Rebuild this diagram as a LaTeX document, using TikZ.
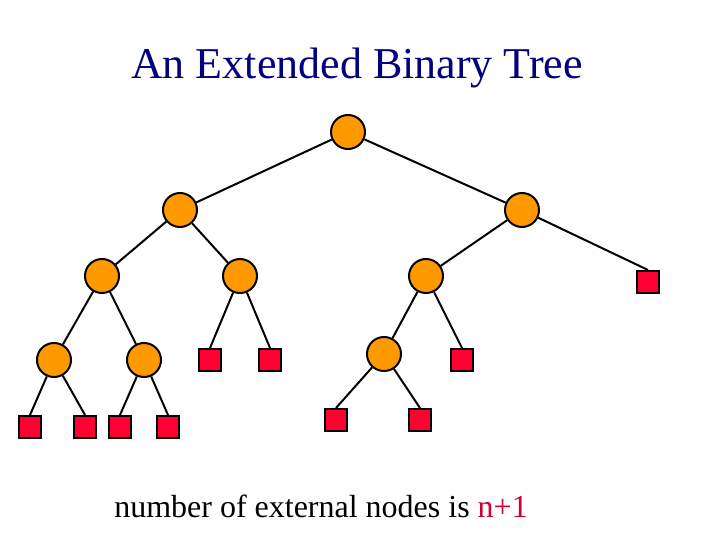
\documentclass[tikz,border=0pt]{standalone}
\usepackage{fontspec}
\setmainfont{Liberation Serif}
\definecolor{titleblue}{RGB}{0,0,128}
\definecolor{nodeorange}{RGB}{255,153,0}
\definecolor{extred}{RGB}{255,0,51}
\definecolor{nred}{RGB}{204,0,51}
\tikzset{
  inner/.style={circle, draw=black, line width=2pt, fill=nodeorange, minimum size=34pt, inner sep=0pt},
  ext/.style={rectangle, draw=black, line width=2pt, fill=extred, minimum size=22pt, inner sep=0pt},
  edge/.style={draw=black, line width=2pt}
}
\begin{document}
\begin{tikzpicture}[x=1pt,y=-1pt]
\useasboundingbox (0,0) rectangle (720,540);
\node[text=titleblue, font=\fontsize{44}{48}\selectfont, anchor=base] (title) at (357,79) {An Extended Binary Tree};
% internal nodes
\node[inner] (r) at (348,132) {};
\node[inner] (a) at (180,210) {};
\node[inner] (b) at (522,210) {};
\node[inner] (c) at (102,276) {};
\node[inner] (d) at (240,276) {};
\node[inner] (e) at (426,276) {};
\node[inner] (f) at (54,360) {};
\node[inner] (g) at (144,360) {};
\node[inner] (h) at (384,354) {};
% external nodes
\node[ext] (s1) at (648,282) {};
\node[ext] (s2) at (210,360) {};
\node[ext] (s3) at (270,360) {};
\node[ext] (s4) at (462,360) {};
\node[ext] (s5) at (30,427) {};
\node[ext] (s6) at (85,427) {};
\node[ext] (s7) at (120,427) {};
\node[ext] (s8) at (168,427) {};
\node[ext] (s9) at (336,420) {};
\node[ext] (s10) at (420,420) {};
% edges between internal nodes
\foreach \u/\v in {r/a, r/b, a/c, a/d, b/e, c/f, c/g, e/h}
  \draw[edge] (\u) -- (\v);
% edges to external nodes
\foreach \u/\v in {b/s1, d/s2, d/s3, e/s4, f/s5, f/s6, g/s7, g/s8, h/s9, h/s10}
  \draw[edge] (\u) -- (\v.north);
\node[font=\fontsize{32}{36}\selectfont, anchor=base] (caption) at (321,517) {number of external nodes is \textcolor{nred}{n+1}};
\end{tikzpicture}
\end{document}
